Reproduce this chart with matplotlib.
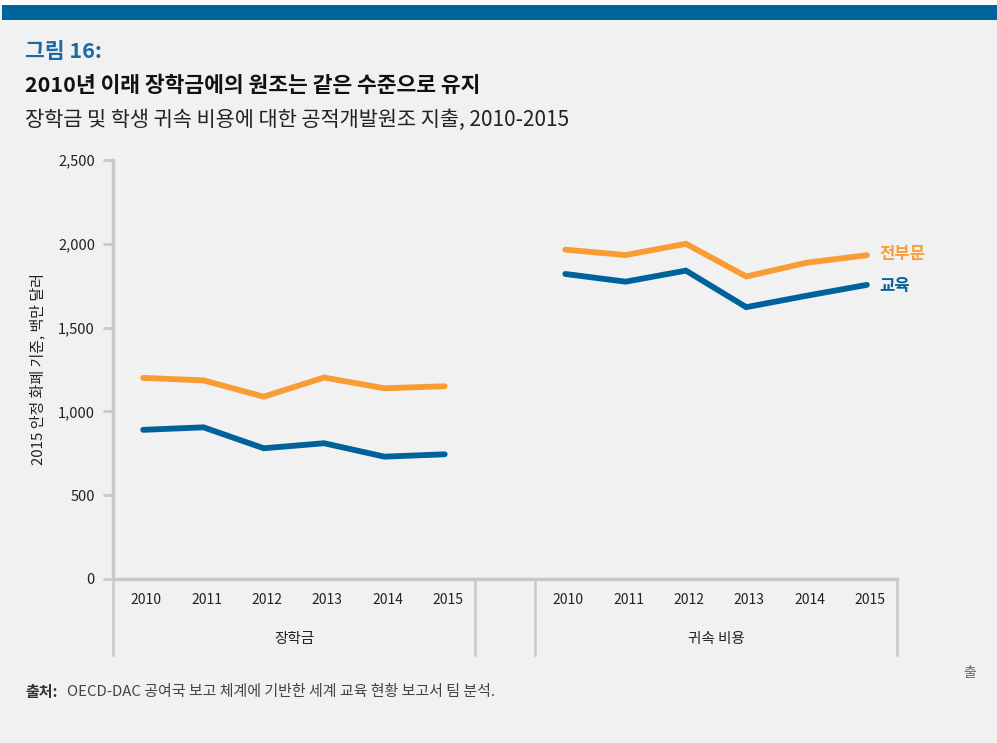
import numpy as np
import matplotlib
matplotlib.use('agg')
import matplotlib.pyplot as plt
from matplotlib.patches import Rectangle
import matplotlib.transforms as mtrans

plt.rcParams['font.family'] = ['Noto Sans CJK KR', 'DejaVu Sans']

years = ['2010', '2011', '2012', '2013', '2014', '2015']
groups = ['장학금', '귀속 비용']
# total sector / education, per group
total_scholar = [1200, 1185, 1088, 1202, 1138, 1150]
edu_scholar = [890, 905, 780, 810, 730, 744]
total_imputed = [1965, 1933, 2000, 1805, 1887, 1932]
edu_imputed = [1820, 1774, 1840, 1622, 1690, 1755]

orange = '#f89c33'
blue = '#00629b'
grey = '#c9c9c9'
bg = '#f1f1f1'

fig = plt.figure(figsize=(9.97, 7.43), dpi=100)
fig.patch.set_facecolor(bg)
fig.patches.append(Rectangle((0, 1 - 5/743), 1, 5/743, transform=fig.transFigure,
                             facecolor='white', edgecolor='none', zorder=0))
fig.patches.append(Rectangle((2/997, 1 - 20/743), 1, 15/743, transform=fig.transFigure,
                             facecolor='#00659b', edgecolor='none', zorder=1))

fig.text(25/997, 1 - 52/743, '그림 16:', color='#1b6ba3', fontsize=15.5,
         fontweight='bold', va='center')
fig.text(25/997, 1 - 85/743, '2010년 이래 장학금에의 원조는 같은 수준으로 유지',
         color='#111111', fontsize=15.5, fontweight='bold', va='center')
fig.text(25/997, 1 - 120/743, '장학금 및 학생 귀속 비용에 대한 공적개발원조 지출, 2010-2015',
         color='#222222', fontsize=15, va='center')

ax = fig.add_axes([113/997, 1 - 579/743, 784/997, 419/743])
ax.set_facecolor(bg)
x1 = np.arange(6)
x2 = np.arange(6) + 7
lw = 4.2
ax.plot(x1, total_scholar, color=orange, lw=lw, solid_capstyle='round', solid_joinstyle='miter')
ax.plot(x1, edu_scholar, color=blue, lw=lw, solid_capstyle='round', solid_joinstyle='miter')
ax.plot(x2, total_imputed, color=orange, lw=lw, solid_capstyle='round', solid_joinstyle='miter')
ax.plot(x2, edu_imputed, color=blue, lw=lw, solid_capstyle='round', solid_joinstyle='miter')

ax.text(x2[-1] + 0.2, total_imputed[-1] + 5, '전부문', color=orange, fontsize=12,
        fontweight='bold', va='center', ha='left')
ax.text(x2[-1] + 0.2, edu_imputed[-1] - 5, '교육', color=blue, fontsize=12,
        fontweight='bold', va='center', ha='left')

ax.set_xlim(-0.5, 12.5)
ax.set_ylim(0, 2500)
ax.set_yticks([0, 500, 1000, 1500, 2000, 2500])
ax.set_yticklabels(['0', '500', '1,000', '1,500', '2,000', '2,500'])
ax.tick_params(axis='y', length=7, width=2, color=grey, labelsize=10.5, pad=6, labelcolor='#222222')
ax.set_xticks([])
for s in ['top', 'right']:
    ax.spines[s].set_visible(False)
for s in ['left', 'bottom']:
    ax.spines[s].set_color(grey)
    ax.spines[s].set_linewidth(2.5)
ax.set_ylabel('2015 안정 화폐 기준, 백만 달러', fontsize=10.8, color='#222222', labelpad=9)

tr = mtrans.blended_transform_factory(ax.transData, ax.transAxes)
for xs in [-0.5, 5.5, 6.5, 12.5]:
    ax.plot([xs, xs], [0, -76/419], color=grey, lw=1.8, transform=tr, clip_on=False)
for xs in (x1, x2):
    for xi, yr in zip(xs, years):
        ax.text(xi + 0.05, -21/419, yr, transform=tr, ha='center', va='center', fontsize=10, color='#222222')
ax.text(x1.mean(), -60/419, groups[0], transform=tr, ha='center', va='center', fontsize=10.5, color='#222222')
ax.text(x2.mean(), -60/419, groups[1], transform=tr, ha='center', va='center', fontsize=10.5, color='#222222')

fig.text(25/997, 1 - 692/743, '출처:', fontsize=10.8, fontweight='bold', color='#333333', va='center')
fig.text(67/997, 1 - 692/743, 'OECD-DAC 공여국 보고 체계에 기반한 세계 교육 현황 보고서 팀 분석.',
         fontsize=10.8, color='#444444', va='center')
fig.text(970/997, 1 - 673/743, '출', fontsize=10, color='#666666', va='center', ha='center')

fig.savefig('out.png', dpi=100, facecolor=fig.get_facecolor())
